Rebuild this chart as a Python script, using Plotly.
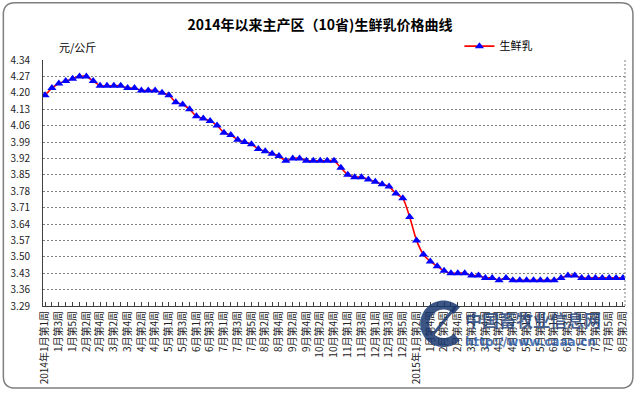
import math
import plotly.graph_objects as go

# ---- data ----
prices = [
    4.19, 4.22, 4.24, 4.25, 4.26, 4.27, 4.27, 4.25, 4.23, 4.23,
    4.23, 4.23, 4.22, 4.22, 4.21, 4.21, 4.21, 4.20, 4.19, 4.16,
    4.15, 4.13, 4.10, 4.09, 4.08, 4.06, 4.03, 4.02, 4.00, 3.99,
    3.98, 3.96, 3.95, 3.94, 3.93, 3.91, 3.92, 3.92, 3.91, 3.91,
    3.91, 3.91, 3.91, 3.88, 3.85, 3.84, 3.84, 3.83, 3.82, 3.81,
    3.80, 3.77, 3.75, 3.67, 3.57, 3.51, 3.48, 3.46, 3.44, 3.43,
    3.43, 3.43, 3.42, 3.42, 3.41, 3.41, 3.40, 3.41, 3.40, 3.40,
    3.40, 3.40, 3.40, 3.40, 3.40, 3.41, 3.42, 3.42, 3.41, 3.41,
    3.41, 3.41, 3.41, 3.41, 3.41,
]
week_labels = [
    "2014年1月第1周", "1月第3周", "1月第5周", "2月第2周", "2月第4周",
    "3月第2周", "3月第4周", "4月第2周", "4月第4周", "5月第1周",
    "5月第3周", "6月第1周", "6月第3周", "7月第1周", "7月第3周",
    "7月第5周", "8月第2周", "8月第4周", "9月第2周", "9月第4周",
    "10月第2周", "10月第4周", "11月第1周", "11月第3周", "12月第1周",
    "12月第3周", "12月第5周",
    "2015年1月第2周", "1月第4周", "2月第2周", "2月第4周", "3月第2周",
    "3月第4周", "4月第2周", "4月第4周", "5月第1周", "5月第3周",
    "6月第1周", "6月第3周", "7月第1周", "7月第3周", "7月第5周",
    "8月第2周",
]
y_ticks = [3.29, 3.36, 3.43, 3.50, 3.57, 3.64, 3.71, 3.78, 3.85,
           3.92, 3.99, 4.06, 4.13, 4.20, 4.27, 4.34]
series_name = "生鲜乳"
title_text = "2014年以来主产区（10省)生鲜乳价格曲线"
unit_text = "元/公斤"

x = list(range(len(prices)))
tickvals = x
ticktext = []
for i in x:
    ticktext.append(week_labels[i // 2] if i % 2 == 0 else "")

FONT = "Noto Sans CJK SC"
W, H = 640, 395
L, R, T, B = 42, 11, 60, 86
pw, ph = W - L - R, H - T - B

fig = go.Figure()
fig.add_trace(go.Scatter(
    x=x, y=prices, name=series_name, mode="lines+markers",
    line=dict(color="#FF0000", width=1.6, shape="spline", smoothing=0.7),
    marker=dict(symbol="triangle-up", size=8, color="#0000FF"),
))


def px2paper(px, py):
    return (px - L) / pw, (H - B - py) / ph


def P(px, py):
    a, b = px2paper(px, py)
    return f"{a:.5f},{b:.5f}"


# rounded outer border
x0, y0, x1, y1, rr = 2, 2, 637, 392, 12
path = (f"M {P(x0+rr, y0)} L {P(x1-rr, y0)} Q {P(x1, y0)} {P(x1, y0+rr)} "
        f"L {P(x1, y1-rr)} Q {P(x1, y1)} {P(x1-rr, y1)} "
        f"L {P(x0+rr, y1)} Q {P(x0, y1)} {P(x0, y1-rr)} "
        f"L {P(x0, y0+rr)} Q {P(x0, y0)} {P(x0+rr, y0)} Z")

# watermark logo arc (decorative)
cx, cy, rad = 446, 327, 19
arc = []
for k in range(0, 41):
    ang = math.radians(45 + k * (270 / 40))
    arc.append(P(cx + rad * math.cos(ang), cy - rad * math.sin(ang)))
arc_path = "M " + " L ".join(arc)

shapes = [
    dict(type="path", path=path, xref="paper", yref="paper",
         line=dict(color="#7f7f7f", width=1.5), layer="below"),
    dict(type="line", xref="paper", yref="paper", x0=1, x1=1, y0=0, y1=1,
         line=dict(color="#808080", width=1, dash="2px,2px")),
    dict(type="path", path=arc_path, xref="paper", yref="paper",
         line=dict(color="rgba(25,55,110,0.85)", width=9)),
    dict(type="line", xref="paper", yref="paper",
         x0=px2paper(436, 337)[0], y0=px2paper(436, 337)[1],
         x1=px2paper(458, 310)[0], y1=px2paper(458, 310)[1],
         line=dict(color="rgba(25,55,110,0.85)", width=3)),
]

fig.update_layout(
    width=W, height=H,
    margin=dict(l=L, r=R, t=T, b=B),
    paper_bgcolor="white", plot_bgcolor="white",
    font=dict(family=FONT, size=10, color="#000000"),
    title=dict(text="<b>" + title_text + "</b>", x=0.5, xref="container",
               y=1 - 25 / H, yanchor="middle", yref="container",
               font=dict(size=14, family=FONT, color="#000000")),
    showlegend=True,
    legend=dict(x=(462 - L) / pw, y=(H - B - 46) / ph, xanchor="left",
                yanchor="middle", bgcolor="rgba(0,0,0,0)",
                font=dict(size=11, family=FONT), itemwidth=30,
                tracegroupgap=0),
    shapes=shapes,
    annotations=[
        dict(text=unit_text, xref="paper", yref="paper",
             x=(56 - L) / pw, y=(H - B - 47) / ph, xanchor="left",
             yanchor="middle", showarrow=False,
             font=dict(size=11, family=FONT)),
        dict(text="<b>中国畜牧业信息网</b>", xref="paper", yref="paper",
             x=(536 - L) / pw, y=(H - B - 323) / ph, xanchor="center",
             yanchor="middle", showarrow=False, opacity=0.8,
             font=dict(size=17, family=FONT, color="#1f3f78")),
        dict(text="<b>http://www.caaa.cn</b>", xref="paper", yref="paper",
             x=(534 - L) / pw, y=(H - B - 345) / ph, xanchor="center",
             yanchor="middle", showarrow=False, opacity=0.8,
             font=dict(size=12, family="DejaVu Sans", color="#2a5caa")),
    ],
)

fig.update_xaxes(
    range=[-0.3, len(prices) - 1 + 0.3],
    tickmode="array", tickvals=tickvals, ticktext=ticktext,
    tickangle=-90, ticks="inside", ticklen=4, tickcolor="#404040",
    showgrid=False, zeroline=False,
    showline=True, linecolor="#404040", linewidth=1,
    tickfont=dict(size=10, family=FONT, color="#222222"),
)
fig.update_yaxes(
    range=[3.29, 4.34],
    tickmode="array", tickvals=y_ticks,
    ticktext=[f"{v:.2f}" for v in y_ticks],
    showgrid=True, gridcolor="#808080", gridwidth=1, griddash="2px,2px",
    zeroline=False, showline=True, linecolor="#404040", linewidth=1,
    ticks="", ticklabelstandoff=10,
    tickfont=dict(size=10, family=FONT, color="#222222"),
)

fig.write_html(
    "out.html",
    config={"displayModeBar": False},
    post_script=("document.body.style.margin='0px';"
                 "document.body.style.overflow='hidden';"
                 "document.documentElement.style.overflow='hidden';"),
)
